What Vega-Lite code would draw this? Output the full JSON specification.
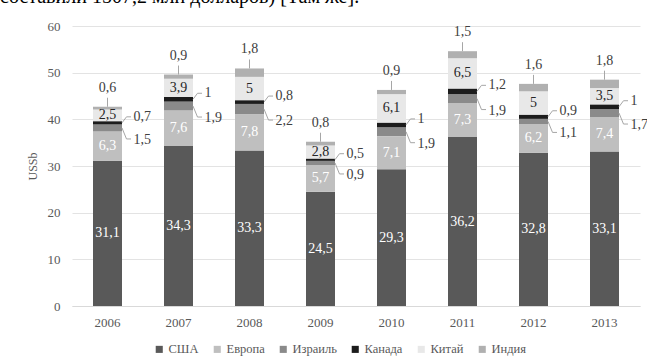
{
  "$schema": "https://vega.github.io/schema/vega-lite/v6.json",
  "width": 568,
  "height": 280,
  "autosize": {"type": "none"},
  "padding": {"left": 72, "top": 26, "right": 7, "bottom": 56},
  "background": "white",
  "title": {
    "text": "составили 1507,2 млн долларов) [Там же].",
    "font": "Liberation Serif",
    "fontSize": 20,
    "fontWeight": "normal",
    "color": "#000000",
    "anchor": "start",
    "frame": "group",
    "dx": -72,
    "offset": 13
  },
  "config": {
    "locale": {"number": {"decimal": ",", "thousands": " ", "grouping": [3], "currency": ["", ""]}},
    "view": {"stroke": null},
    "font": "Liberation Serif"
  },
  "data": {
    "values": [
      {"year": "2006", "c": "США", "v": 31.1}, {"year": "2006", "c": "Европа", "v": 6.3}, {"year": "2006", "c": "Израиль", "v": 1.5}, {"year": "2006", "c": "Канада", "v": 0.7}, {"year": "2006", "c": "Китай", "v": 2.5}, {"year": "2006", "c": "Индия", "v": 0.6},
      {"year": "2007", "c": "США", "v": 34.3}, {"year": "2007", "c": "Европа", "v": 7.6}, {"year": "2007", "c": "Израиль", "v": 1.9}, {"year": "2007", "c": "Канада", "v": 1}, {"year": "2007", "c": "Китай", "v": 3.9}, {"year": "2007", "c": "Индия", "v": 0.9},
      {"year": "2008", "c": "США", "v": 33.3}, {"year": "2008", "c": "Европа", "v": 7.8}, {"year": "2008", "c": "Израиль", "v": 2.2}, {"year": "2008", "c": "Канада", "v": 0.8}, {"year": "2008", "c": "Китай", "v": 5}, {"year": "2008", "c": "Индия", "v": 1.8},
      {"year": "2009", "c": "США", "v": 24.5}, {"year": "2009", "c": "Европа", "v": 5.7}, {"year": "2009", "c": "Израиль", "v": 0.9}, {"year": "2009", "c": "Канада", "v": 0.5}, {"year": "2009", "c": "Китай", "v": 2.8}, {"year": "2009", "c": "Индия", "v": 0.8},
      {"year": "2010", "c": "США", "v": 29.3}, {"year": "2010", "c": "Европа", "v": 7.1}, {"year": "2010", "c": "Израиль", "v": 1.9}, {"year": "2010", "c": "Канада", "v": 1}, {"year": "2010", "c": "Китай", "v": 6.1}, {"year": "2010", "c": "Индия", "v": 0.9},
      {"year": "2011", "c": "США", "v": 36.2}, {"year": "2011", "c": "Европа", "v": 7.3}, {"year": "2011", "c": "Израиль", "v": 1.9}, {"year": "2011", "c": "Канада", "v": 1.2}, {"year": "2011", "c": "Китай", "v": 6.5}, {"year": "2011", "c": "Индия", "v": 1.5},
      {"year": "2012", "c": "США", "v": 32.8}, {"year": "2012", "c": "Европа", "v": 6.2}, {"year": "2012", "c": "Израиль", "v": 1.1}, {"year": "2012", "c": "Канада", "v": 0.9}, {"year": "2012", "c": "Китай", "v": 5}, {"year": "2012", "c": "Индия", "v": 1.6},
      {"year": "2013", "c": "США", "v": 33.1}, {"year": "2013", "c": "Европа", "v": 7.4}, {"year": "2013", "c": "Израиль", "v": 1.7}, {"year": "2013", "c": "Канада", "v": 1}, {"year": "2013", "c": "Китай", "v": 3.5}, {"year": "2013", "c": "Индия", "v": 1.8}
    ]
  },
  "transform": [
    {"calculate": "indexof(['США','Европа','Израиль','Канада','Китай','Индия'], datum.c)", "as": "ord"},
    {"stack": "v", "groupby": ["year"], "sort": [{"field": "ord", "order": "ascending"}], "as": ["y0", "y1"]},
    {"calculate": "(datum.y0 + datum.y1) / 2", "as": "mid"}
  ],
  "layer": [
    {
      "mark": {"type": "bar", "size": 29},
      "encoding": {
        "x": {"field": "year", "type": "ordinal", "scale": {"paddingInner": 0, "paddingOuter": 0},
              "axis": {"title": null, "labelAngle": 0, "ticks": false, "domainColor": "#d9d9d9", "labelColor": "#595959", "labelFontSize": 13, "labelPadding": 10, "labelFont": "Liberation Serif"}},
        "y": {"field": "y0", "type": "quantitative", "scale": {"domain": [0, 60]},
              "axis": {"title": "USSb", "values": [0, 10, 20, 30, 40, 50, 60], "domain": false, "ticks": false, "gridColor": "#e3e3e3", "labelColor": "#595959", "labelFontSize": 13, "labelPadding": 12, "labelFont": "Liberation Serif", "titleFont": "Liberation Serif", "titleFontSize": 12, "titleFontWeight": "normal", "titleColor": "#595959", "titlePadding": 8}},
        "y2": {"field": "y1"},
        "color": {"field": "c", "type": "nominal",
                  "scale": {"domain": ["США", "Европа", "Израиль", "Канада", "Китай", "Индия"], "range": ["#595959", "#bfbfbf", "#8a8a8a", "#1c1c1c", "#e8e8e8", "#b0b0b0"]},
                  "legend": {"title": null, "orient": "none", "legendX": 81, "legendY": 317, "direction": "horizontal", "symbolType": "square", "symbolSize": 50, "symbolStrokeWidth": 0, "labelFont": "Liberation Serif", "labelFontSize": 12.5, "labelColor": "#595959", "columnPadding": 12, "labelOffset": 3}}
      }
    },
    {
      "transform": [{"filter": "datum.c === 'США' || datum.c === 'Европа' || datum.c === 'Китай'"}],
      "mark": {"type": "text", "fontSize": 14, "baseline": "middle", "font": "Liberation Serif"},
      "encoding": {
        "x": {"field": "year", "type": "ordinal"},
        "y": {"field": "mid", "type": "quantitative"},
        "text": {"field": "v", "type": "quantitative", "format": ".1~f"},
        "color": {"condition": {"test": "datum.c === 'Китай'", "value": "#262626"}, "value": "#ffffff"}
      }
    },
    {
      "transform": [{"filter": "datum.c === 'Индия'"}],
      "mark": {"type": "text", "fontSize": 14, "baseline": "middle", "dy": -19, "color": "#404040", "font": "Liberation Serif"},
      "encoding": {
        "x": {"field": "year", "type": "ordinal"},
        "y": {"field": "y1", "type": "quantitative"},
        "text": {"field": "v", "type": "quantitative", "format": ".1~f"}
      }
    },
    {
      "transform": [{"filter": "datum.c === 'Индия'"}],
      "mark": {"type": "rule", "color": "#a6a6a6", "strokeWidth": 1, "y2Offset": -9},
      "encoding": {
        "x": {"field": "year", "type": "ordinal", "bandPosition": 0.5},
        "y": {"field": "y1", "type": "quantitative"},
        "y2": {"field": "y1"}
      }
    },
    {
      "transform": [{"filter": "datum.c === 'Канада'"}],
      "mark": {"type": "text", "fontSize": 14, "baseline": "middle", "align": "left", "dx": 26, "dy": -6, "color": "#404040", "font": "Liberation Serif"},
      "encoding": {
        "x": {"field": "year", "type": "ordinal"},
        "y": {"field": "mid", "type": "quantitative"},
        "text": {"field": "v", "type": "quantitative", "format": ".1~f"}
      }
    },
    {
      "transform": [{"filter": "datum.c === 'Израиль'"}],
      "mark": {"type": "text", "fontSize": 14, "baseline": "middle", "align": "left", "dx": 26, "dy": 12, "color": "#404040", "font": "Liberation Serif"},
      "encoding": {
        "x": {"field": "year", "type": "ordinal"},
        "y": {"field": "mid", "type": "quantitative"},
        "text": {"field": "v", "type": "quantitative", "format": ".1~f"}
      }
    },
    {
      "transform": [{"filter": "datum.c === 'Канада'"}],
      "mark": {"type": "rule", "color": "#a6a6a6", "strokeWidth": 1, "xOffset": 14.5, "x2Offset": 19, "y2Offset": -6},
      "encoding": {
        "x": {"field": "year", "type": "ordinal", "bandPosition": 0.5},
        "x2": {"field": "year", "bandPosition": 0.5},
        "y": {"field": "mid", "type": "quantitative"},
        "y2": {"field": "mid"}
      }
    },
    {
      "transform": [{"filter": "datum.c === 'Канада'"}],
      "mark": {"type": "rule", "color": "#a6a6a6", "strokeWidth": 1, "xOffset": 19, "x2Offset": 23.5, "yOffset": -6, "y2Offset": -6},
      "encoding": {
        "x": {"field": "year", "type": "ordinal", "bandPosition": 0.5},
        "x2": {"field": "year", "bandPosition": 0.5},
        "y": {"field": "mid", "type": "quantitative"},
        "y2": {"field": "mid"}
      }
    },
    {
      "transform": [{"filter": "datum.c === 'Израиль'"}],
      "mark": {"type": "rule", "color": "#a6a6a6", "strokeWidth": 1, "xOffset": 14.5, "x2Offset": 19, "y2Offset": 11},
      "encoding": {
        "x": {"field": "year", "type": "ordinal", "bandPosition": 0.5},
        "x2": {"field": "year", "bandPosition": 0.5},
        "y": {"field": "mid", "type": "quantitative"},
        "y2": {"field": "mid"}
      }
    },
    {
      "transform": [{"filter": "datum.c === 'Израиль'"}],
      "mark": {"type": "rule", "color": "#a6a6a6", "strokeWidth": 1, "xOffset": 19, "x2Offset": 23.5, "yOffset": 11, "y2Offset": 11},
      "encoding": {
        "x": {"field": "year", "type": "ordinal", "bandPosition": 0.5},
        "x2": {"field": "year", "bandPosition": 0.5},
        "y": {"field": "mid", "type": "quantitative"},
        "y2": {"field": "mid"}
      }
    }
  ]
}
